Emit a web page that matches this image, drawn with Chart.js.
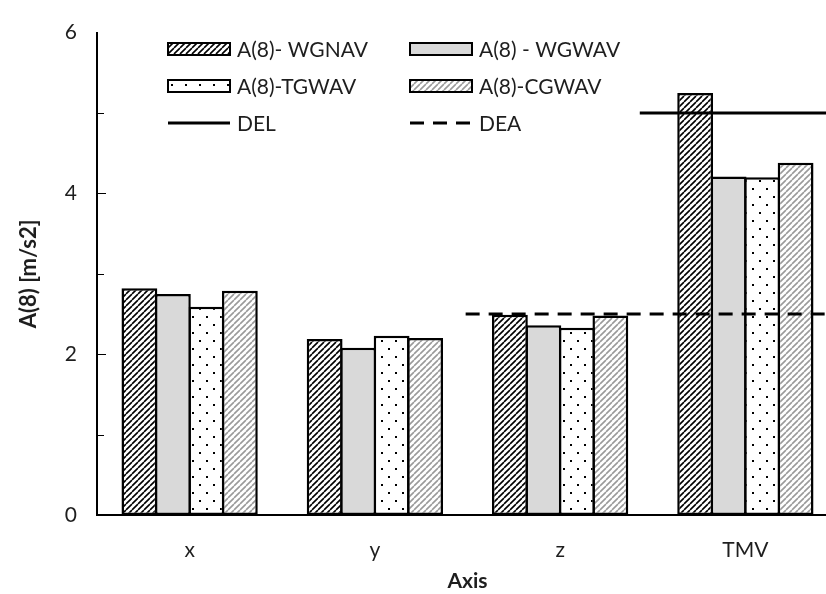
<!DOCTYPE html>
<html>
<head>
<meta charset="utf-8">
<script src="https://cdn.jsdelivr.net/npm/chart.js@4"></script>
<style>
  html, body { margin: 0; padding: 0; background: #fff; overflow: hidden; }
  #wrap { width: 826px; height: 594px; overflow: hidden; }
</style>
</head>
<body>
<div id="wrap"><canvas id="c" width="850" height="594"></canvas></div>
<script>
const categories = ["x", "y", "z", "TMV"];
const wgnav = [2.82, 2.19, 2.49, 5.25];
const wgwav = [2.75, 2.08, 2.36, 4.21];
const tgwav = [2.59, 2.23, 2.33, 4.20];
const cgwav = [2.79, 2.20, 2.48, 4.38];

// limit lines; x is a position along the category axis (0 = "x", 3 = "TMV")
const delX = [2.43, 3.6];
const delY = [5, 5];
const deaX = [1.49, 3.6];
const deaY = [2.5, 2.5];

const yTicks = [0, 2, 4, 6];

const FONT = "Lato, 'Open Sans', sans-serif";
const TEXT = "#1e1e1e";

function hatch(color, size, lw) {
  const c = document.createElement("canvas");
  c.width = c.height = size;
  const g = c.getContext("2d");
  g.fillStyle = "#fff";
  g.fillRect(0, 0, size, size);
  g.strokeStyle = color;
  g.lineWidth = lw;
  g.beginPath();
  for (const o of [-size, 0, size]) {
    g.moveTo(o, size);
    g.lineTo(o + size, 0);
  }
  g.stroke();
  return g.createPattern(c, "repeat");
}

function dots() {
  const c = document.createElement("canvas");
  c.width = 14;
  c.height = 16;
  const g = c.getContext("2d");
  g.fillStyle = "#fff";
  g.fillRect(0, 0, 14, 16);
  g.fillStyle = "#000";
  g.fillRect(3, 4, 2, 2);
  g.fillRect(10, 12, 2, 2);
  return g.createPattern(c, "repeat");
}

const fills = {
  wgnav: hatch("#000", 6, 1.6),
  wgwav: "#d9d9d9",
  tgwav: dots(),
  cgwav: hatch("#9a9a9a", 6, 1.6),
};

function bar(label, data, fill) {
  return {
    label,
    data,
    backgroundColor: fill,
    borderColor: "#000",
    borderWidth: 2.5,
    borderSkipped: false,
    barPercentage: 1.07,
    categoryPercentage: 0.723,
  };
}

const limits = [
  { xs: delX, ys: delY, dash: [] },
  { xs: deaX, ys: deaY, dash: [14, 9] },
];

const limitLines = {
  id: "limitLines",
  afterDatasetsDraw(chart) {
    const { x, y } = chart.scales;
    const ctx = chart.ctx;
    ctx.save();
    ctx.strokeStyle = "#000";
    ctx.lineWidth = 3;
    for (const l of limits) {
      ctx.setLineDash(l.dash);
      ctx.beginPath();
      l.xs.forEach((v, i) => {
        const px = x.getPixelForValue(v);
        const py = y.getPixelForValue(l.ys[i]);
        if (i === 0) ctx.moveTo(px, py);
        else ctx.lineTo(px, py);
      });
      ctx.stroke();
    }
    ctx.restore();
  },
};

const legendItems = [
  { text: "A(8)- WGNAV", fill: fills.wgnav, col: 0, row: 0 },
  { text: "A(8) - WGWAV", fill: fills.wgwav, col: 1, row: 0 },
  { text: "A(8)-TGWAV", fill: fills.tgwav, col: 0, row: 1 },
  { text: "A(8)-CGWAV", fill: fills.cgwav, col: 1, row: 1 },
  { text: "DEL", line: [], col: 0, row: 2 },
  { text: "DEA", line: [14, 9], col: 1, row: 2 },
];

const legendPlugin = {
  id: "boxLegend",
  afterDraw(chart) {
    const ctx = chart.ctx;
    const colX = [168, 410];
    const rowY = [49, 86, 123];
    ctx.save();
    ctx.font = `21px ${FONT}`;
    ctx.textBaseline = "middle";
    for (const it of legendItems) {
      const x = colX[it.col];
      const y = rowY[it.row];
      if (it.line) {
        ctx.strokeStyle = "#000";
        ctx.lineWidth = 3;
        ctx.setLineDash(it.line);
        ctx.beginPath();
        ctx.moveTo(x, y);
        ctx.lineTo(x + 62, y);
        ctx.stroke();
        ctx.setLineDash([]);
      } else {
        ctx.fillStyle = it.fill;
        ctx.fillRect(x, y - 6, 62, 12);
        ctx.strokeStyle = "#000";
        ctx.lineWidth = 2;
        ctx.strokeRect(x, y - 6, 62, 12);
      }
      ctx.fillStyle = TEXT;
      ctx.fillText(it.text, x + 69, y + 1);
    }
    ctx.restore();
  },
};

// short tick marks inside the plot, on the y axis
const innerTicks = {
  id: "innerTicks",
  afterDraw(chart) {
    const y = chart.scales.y;
    const ctx = chart.ctx;
    const left = chart.chartArea.left;
    ctx.save();
    ctx.strokeStyle = "#000";
    ctx.lineWidth = 1.2;
    ctx.beginPath();
    for (let v = 1; v < 6; v++) {
      const py = Math.round(y.getPixelForValue(v)) + 0.5;
      const len = v % 2 === 0 ? 9 : 7;
      ctx.moveTo(left, py);
      ctx.lineTo(left + len, py);
    }
    ctx.stroke();
    ctx.restore();
  },
};

new Chart(document.getElementById("c"), {
  type: "bar",
  data: {
    labels: categories,
    datasets: [
      bar("A(8)- WGNAV", wgnav, fills.wgnav),
      bar("A(8) - WGWAV", wgwav, fills.wgwav),
      bar("A(8)-TGWAV", tgwav, fills.tgwav),
      bar("A(8)-CGWAV", cgwav, fills.cgwav),
    ],
  },
  options: {
    responsive: false,
    animation: false,
    layout: { padding: { top: 22, right: 12, left: 0, bottom: 0 } },
    plugins: { legend: { display: false }, tooltip: { enabled: false } },
    scales: {
      x: {
        grid: { display: false, drawTicks: false },
        border: { display: true, color: "#000", width: 2 },
        ticks: { color: TEXT, font: { family: FONT, size: 21 }, padding: 23 },
        title: {
          display: true,
          text: "Axis",
          color: TEXT,
          font: { family: FONT, size: 21, weight: "bold" },
          padding: { top: 0, bottom: 0 },
        },
        afterFit: (s) => { s.height = 79; },
      },
      y: {
        min: 0,
        max: 6,
        grid: { display: false, drawTicks: false },
        border: { display: true, color: "#000", width: 2 },
        afterBuildTicks: (s) => { s.ticks = yTicks.map((v) => ({ value: v })); },
        ticks: { color: TEXT, font: { family: FONT, size: 21 }, padding: 20 },
        title: {
          display: true,
          text: "A(8) [m/s2]",
          color: TEXT,
          font: { family: FONT, size: 22, weight: "bold" },
          padding: { top: 16, bottom: 0 },
        },
        afterFit: (s) => { s.width = 97; },
      },
    },
  },
  plugins: [limitLines, legendPlugin, innerTicks],
});
</script>
</body>
</html>
